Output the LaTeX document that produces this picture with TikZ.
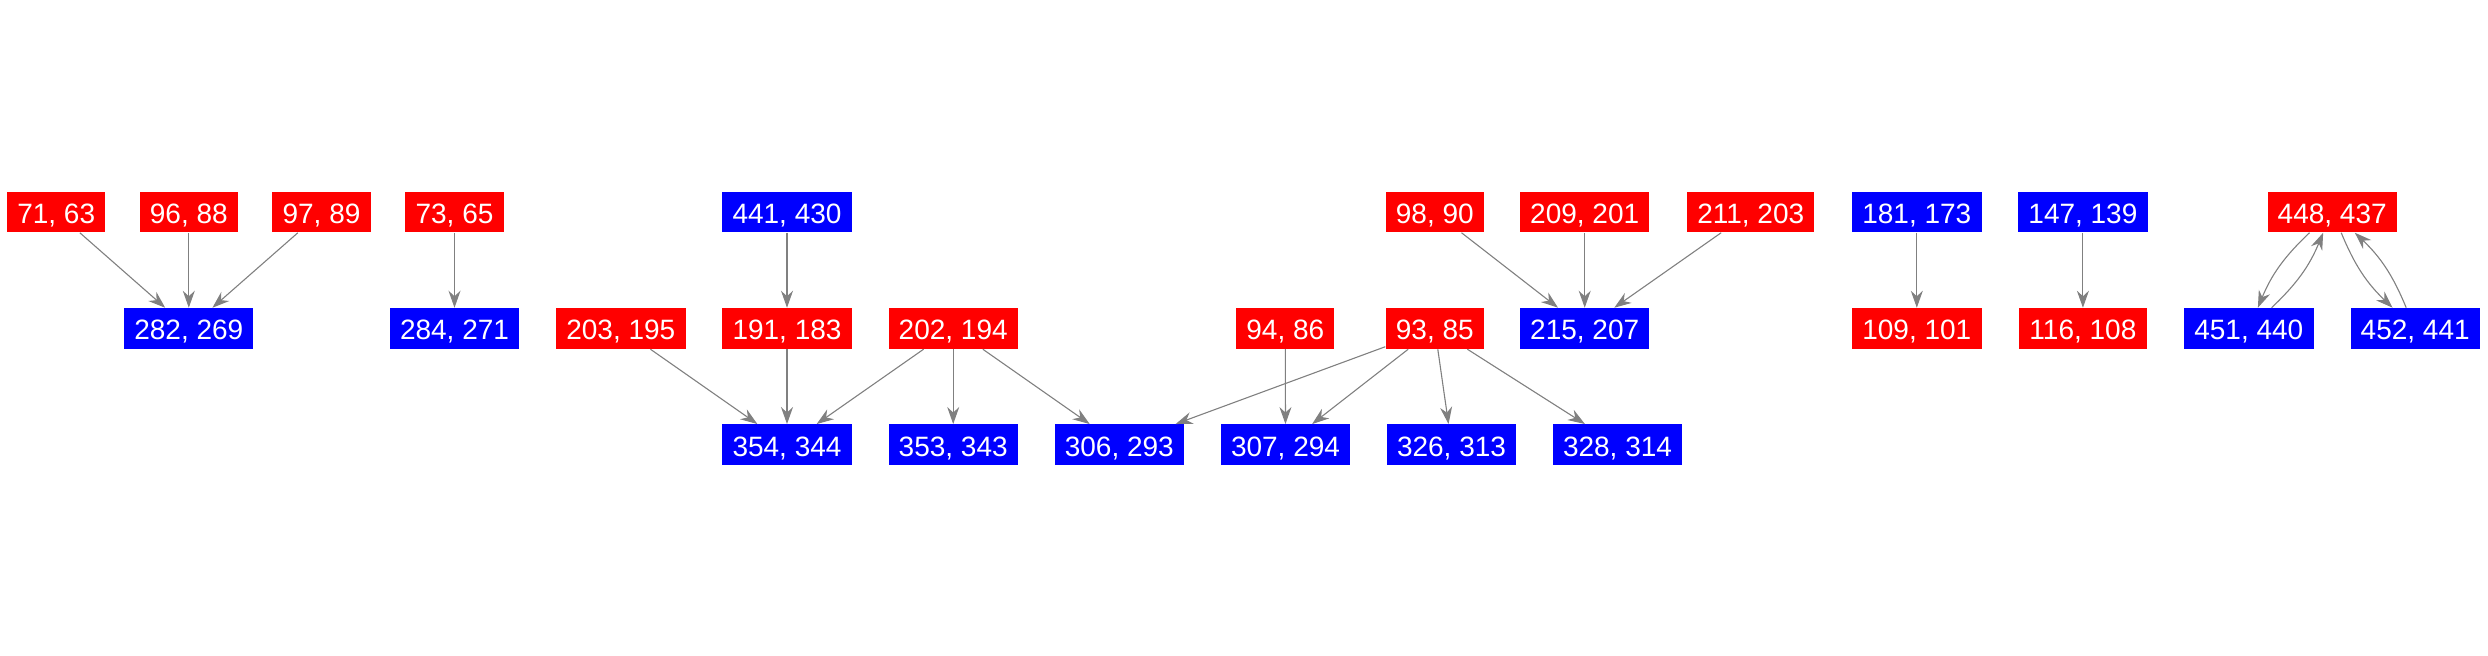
\documentclass[tikz,border=0pt]{standalone}
\usepackage{fontspec}
\setmainfont{Liberation Sans}
\usetikzlibrary{arrows.meta}

\begin{document}
\begin{tikzpicture}[
            x=0.5pt, y=0.5pt,
            box/.style={rectangle, text=white, font=\fontsize{14}{14}\selectfont,
                inner xsep=5.1pt, inner ysep=4.5pt, text height=11.35pt, text depth=0pt},
            rbox/.style={box, fill=red},
            bbox/.style={box, fill=blue},
            edge/.style={draw=gray, line width=0.55pt, -{Stealth[length=8.5pt, width=6pt]}}
        ]
        \useasboundingbox (0,0) rectangle (2488,656);

        % top row
        \node[rbox] (n7163) at (56.2,444) {71, 63};
        \node[rbox] (n9688) at (188.8,444) {96, 88};
        \node[rbox] (n9789) at (321.5,444) {97, 89};
        \node[rbox] (n7365) at (454.5,444) {73, 65};
        \node[bbox] (n441430) at (787,444) {441, 430};
        \node[rbox] (n9890) at (1434.8,444) {98, 90};
        \node[rbox] (n209201) at (1584.7,444) {209, 201};
        \node[rbox] (n211203) at (1750.7,444) {211, 203};
        \node[bbox] (n181173) at (1916.8,444) {181, 173};
        \node[bbox] (n147139) at (2082.9,444) {147, 139};
        \node[rbox] (n448437) at (2332.2,444) {448, 437};

        % middle row
        \node[bbox] (n282269) at (188.8,327.5) {282, 269};
        \node[bbox] (n284271) at (454.5,327.5) {284, 271};
        \node[rbox] (n203195) at (620.8,327.5) {203, 195};
        \node[rbox] (n191183) at (787,327.5) {191, 183};
        \node[rbox] (n202194) at (953.2,327.5) {202, 194};
        \node[rbox] (n9486) at (1285.3,327.5) {94, 86};
        \node[rbox] (n9385) at (1434.8,327.5) {93, 85};
        \node[bbox] (n215207) at (1584.7,327.5) {215, 207};
        \node[rbox] (n109101) at (1916.8,327.5) {109, 101};
        \node[rbox] (n116108) at (2082.9,327.5) {116, 108};
        \node[bbox] (n451440) at (2248.8,327.5) {451, 440};
        \node[bbox] (n452441) at (2415.2,327.5) {452, 441};

        % bottom row
        \node[bbox] (n354344) at (787,211.2) {354, 344};
        \node[bbox] (n353343) at (953.2,211.2) {353, 343};
        \node[bbox] (n306293) at (1119.3,211.2) {306, 293};
        \node[bbox] (n307294) at (1285.5,211.2) {307, 294};
        \node[bbox] (n326313) at (1451.5,211.2) {326, 313};
        \node[bbox] (n328314) at (1617.5,211.2) {328, 314};

        \draw[edge] (n7163) -- (n282269);
        \draw[edge] (n9688) -- (n282269);
        \draw[edge] (n9789) -- (n282269);
        \draw[edge] (n7365) -- (n284271);
        \draw[edge] (n441430) -- (n191183);
        \draw[edge] (n203195) -- (n354344);
        \draw[edge] (n191183) -- (n354344);
        \draw[edge] (n202194) -- (n354344);
        \draw[edge] (n202194) -- (n353343);
        \draw[edge] (n202194) -- (n306293);
        \draw[edge] (n9486) -- (n307294);
        \draw[edge] (n9385) -- (n306293);
        \draw[edge] (n9385) -- (n307294);
        \draw[edge] (n9385) -- (n326313);
        \draw[edge] (n9385) -- (n328314);
        \draw[edge] (n9890) -- (n215207);
        \draw[edge] (n209201) -- (n215207);
        \draw[edge] (n211203) -- (n215207);
        \draw[edge] (n181173) -- (n109101);
        \draw[edge] (n147139) -- (n116108);

        % two-way links
        \draw[edge] (n448437) to[bend right=12] (n451440);
        \draw[edge] (n451440) to[bend right=12] (n448437);
        \draw[edge] (n448437) to[bend right=12] (n452441);
        \draw[edge] (n452441) to[bend right=12] (n448437);
    \end{tikzpicture}
\end{document}
